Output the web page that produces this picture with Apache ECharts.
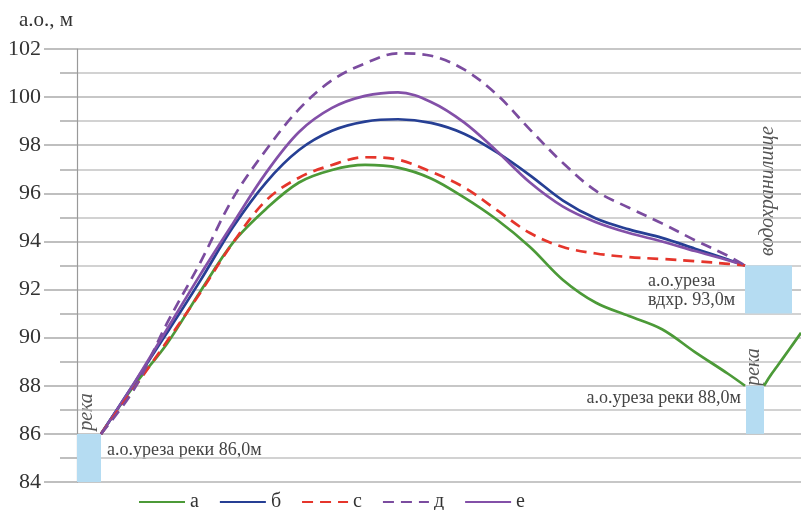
<!DOCTYPE html>
<html><head><meta charset="utf-8">
<script src="https://cdn.jsdelivr.net/npm/echarts@6/dist/echarts.min.js"></script>
<style>html,body{margin:0;padding:0;background:#fff}#c{width:801px;height:510px}</style>
</head><body><div id="c"></div>
<script>
// distance along the profile (arbitrary units), elevation in m
const seriesNames = ['а', 'б', 'с', 'д', 'е'];
const yTicks = [84, 86, 88, 90, 92, 94, 96, 98, 100, 102];
const xs = [24, 57, 90, 123, 156, 189, 222, 255, 288, 321, 354, 387, 420, 453, 486, 519, 552, 585, 618, 651, 668];

const valuesA = [86.0, 88.0, 89.75, 91.9, 93.95, 95.35, 96.45, 96.97, 97.18, 97.07, 96.62, 95.83, 94.9, 93.77, 92.4, 91.45, 90.9, 90.35, 89.4, 88.5, 88.0];
const valuesB = [86.0, 88.1, 90.2, 92.35, 94.6, 96.45, 97.8, 98.6, 98.98, 99.08, 98.93, 98.48, 97.7, 96.75, 95.7, 94.95, 94.5, 94.15, 93.7, 93.25, 93.0];
const valuesC = [86.0, 87.9, 89.85, 91.85, 93.95, 95.7, 96.65, 97.18, 97.5, 97.4, 96.9, 96.25, 95.3, 94.35, 93.77, 93.5, 93.35, 93.27, 93.18, 93.07, 93.0];
const valuesD = [86.0, 87.85, 90.6, 93.1, 95.8, 97.8, 99.5, 100.7, 101.4, 101.82, 101.72, 101.15, 100.1, 98.65, 97.26, 96.1, 95.4, 94.75, 94.05, 93.4, 93.0];
const valuesE = [86.0, 88.1, 90.35, 92.6, 94.75, 96.85, 98.55, 99.55, 100.05, 100.2, 99.8, 98.95, 97.75, 96.45, 95.45, 94.8, 94.35, 94.0, 93.6, 93.22, 93.0];
// green profile beyond the river
const xsA2 = [687, 693, 700, 712, 724];
const valuesA2 = [88.0, 88.4, 88.8, 89.5, 90.2];
// water bodies: [x0, y0, x1, y1]
const waterAreas = [[0,84,24,86],[668,91,715,93],[669,86,687,88]];

const colors = {'а':'#4c9a38','б':'#263f94','с':'#e5352b','д':'#7b4c9f','е':'#8350a8'};
const serif = 'Liberation Serif';
const zip = (x, y) => x.map((v, i) => [v, y[i]]);

function line(name, data, dashed){
  return {
    name: name, type: 'line', data: data, smooth: 0.35, showSymbol: false, symbol: 'none',
    z: dashed ? 4 : 3,
    lineStyle: {color: colors[name], width: 2.7, type: dashed ? [11,7] : 'solid'},
    itemStyle: {color: colors[name]}
  };
}

const chart = echarts.init(document.getElementById('c'), null, {renderer:'canvas'});
chart.setOption({
  animation: false,
  backgroundColor: '#fff',
  textStyle: {fontFamily: serif},
  grid: {left: 77, right: 0, top: 49, bottom: 28, containLabel: false},
  xAxis: {type: 'value', min: 0, max: 724, show: false},
  yAxis: {
    type: 'value', min: 84, max: 102, interval: 2,
    axisLine: {show: true, lineStyle: {color: '#999', width: 1.2}},
    axisTick: {show: true, length: 33, lineStyle: {color: '#aaa', width: 1.5}},
    minorTick: {show: true, splitNumber: 2, length: 17, lineStyle: {color: '#aaa', width: 1.5}},
    splitLine: {show: true, lineStyle: {color: '#b4b4b4', width: 1.5}},
    minorSplitLine: {show: true, lineStyle: {color: '#c4c4c4', width: 1.5}},
    axisLabel: {margin: 36, fontFamily: serif, fontSize: 22, color: '#333',
      formatter: v => yTicks.indexOf(v) >= 0 ? String(v) : ''}
  },
  legend: {
    data: seriesNames, left: 133, top: 487, itemWidth: 46, itemHeight: 14, itemGap: 20,
    itemStyle: {opacity: 0},
    textStyle: {fontFamily: serif, fontSize: 20, color: '#333'}
  },
  graphic: [
    {type:'text', left: 19, top: 10, style:{text:'а.о., м', font:'21px Liberation Serif', fill:'#333'}},
    {type:'text', x: 107, y: 450, style:{text:'а.о.уреза реки 86,0м', font:'18px Liberation Serif', fill:'#444', textVerticalAlign:'middle'}},
    {type:'text', x: 648, y: 281, style:{text:'а.о.уреза', font:'18px Liberation Serif', fill:'#444', textVerticalAlign:'middle'}},
    {type:'text', x: 648, y: 300, style:{text:'вдхр. 93,0м', font:'18px Liberation Serif', fill:'#444', textVerticalAlign:'middle'}},
    {type:'text', x: 741, y: 398, style:{text:'а.о.уреза реки 88,0м', font:'18px Liberation Serif', fill:'#444', textAlign:'right', textVerticalAlign:'middle'}},
    {type:'text', x: 87, y: 412, rotation: Math.PI/2, style:{text:'река', font:'italic 20px Liberation Serif', fill:'#555', textAlign:'center', textVerticalAlign:'middle'}},
    {type:'text', x: 754, y: 367, rotation: Math.PI/2, style:{text:'река', font:'italic 20px Liberation Serif', fill:'#555', textAlign:'center', textVerticalAlign:'middle'}},
    {type:'text', x: 768, y: 191, rotation: Math.PI/2, style:{text:'водохранилище', font:'italic 20px Liberation Serif', fill:'#555', textAlign:'center', textVerticalAlign:'middle'}}
  ],
  series: [
    Object.assign(line('а', zip(xs, valuesA), false), {
      markArea: {silent: true, itemStyle: {color: '#b5dcf2'},
        data: waterAreas.map(r => [{coord:[r[0], r[1]]}, {coord:[r[2], r[3]]}])}
    }),
    line('а', zip(xsA2, valuesA2), false),
    line('б', zip(xs, valuesB), false),
    line('е', zip(xs, valuesE), false),
    line('с', zip(xs, valuesC), true),
    line('д', zip(xs, valuesD), true)
  ]
});
</script></body></html>
